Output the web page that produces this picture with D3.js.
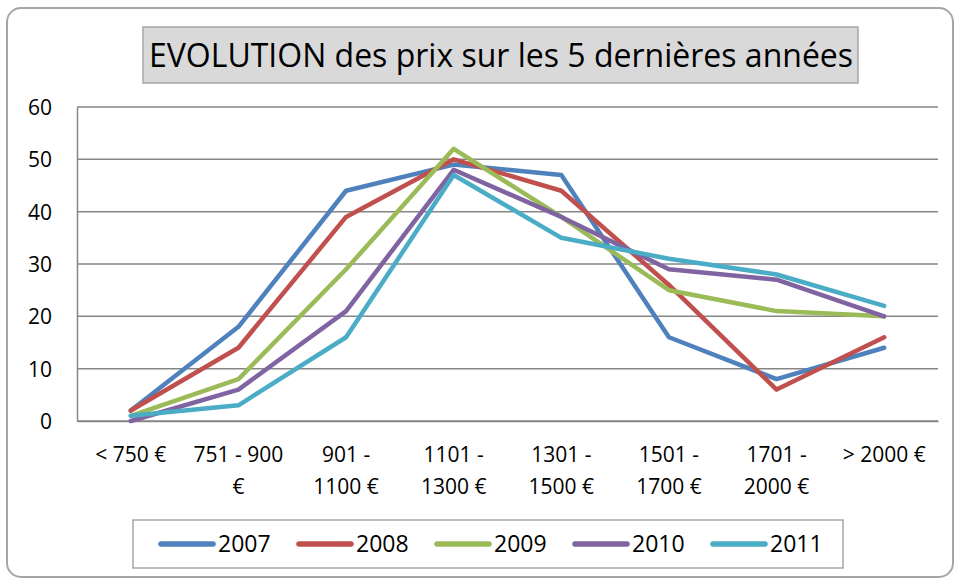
<!DOCTYPE html>
<html>
<head>
<meta charset="utf-8">
<script src="https://cdn.jsdelivr.net/npm/d3@7"></script>
<style>
  body { margin: 0; background: #fff; }
  text { font-family: "Open Sans", sans-serif; fill: #000; }
</style>
</head>
<body>
<div id="chart"></div>
<script>
// data
var categories = ["< 750 €", "751 - 900 €", "901 - 1100 €", "1101 - 1300 €", "1301 - 1500 €", "1501 - 1700 €", "1701 - 2000 €", "> 2000 €"];
var tickLines = [["< 750 €"], ["751 - 900", "€"], ["901 -", "1100 €"], ["1101 -", "1300 €"], ["1301 -", "1500 €"], ["1501 -", "1700 €"], ["1701 -", "2000 €"], ["> 2000 €"]];
var years = ["2007", "2008", "2009", "2010", "2011"];
var v2007 = [2, 18, 44, 49, 47, 16, 8, 14];
var v2008 = [2, 14, 39, 50, 44, 26, 6, 16];
var v2009 = [1, 8, 29, 52, 39, 25, 21, 20];
var v2010 = [0, 6, 21, 48, 39, 29, 27, 20];
var v2011 = [1, 3, 16, 47, 35, 31, 28, 22];
var yTicks = [0, 10, 20, 30, 40, 50, 60];
var colors = ["#4F81BD", "#C0504D", "#9BBB59", "#8064A2", "#4BACC6"];

var series = [v2007, v2008, v2009, v2010, v2011];

var W = 960, H = 579;
var margin = {top: 107, right: 22, bottom: 158, left: 77},
    width = W - margin.left - margin.right,
    height = H - margin.top - margin.bottom;

var svg = d3.select("#chart").append("svg")
    .attr("width", W)
    .attr("height", H);

// outer frame
svg.append("rect")
    .attr("x", 7).attr("y", 8)
    .attr("width", W - 14).attr("height", H - 10)
    .attr("rx", 14)
    .attr("fill", "#fff")
    .attr("stroke", "#a6a6a6")
    .attr("stroke-width", 2);

// title
svg.append("rect")
    .attr("x", 143).attr("y", 27)
    .attr("width", 715).attr("height", 56)
    .attr("fill", "#d9d9d9")
    .attr("stroke", "#a6a6a6")
    .attr("stroke-width", 1.5);
svg.append("text")
    .attr("x", 501).attr("y", 67)
    .attr("text-anchor", "middle")
    .style("font-size", "32px")
    .text("EVOLUTION des prix sur les 5 dernières années");

var g = svg.append("g")
    .attr("transform", "translate(" + margin.left + "," + margin.top + ")");

var x = d3.scaleBand().domain(categories).range([0, width]);
var y = d3.scaleLinear().domain([0, 60]).range([height, 0]);

// gridlines
g.selectAll(".grid")
  .data(yTicks)
  .enter().append("line")
    .attr("class", "grid")
    .attr("x1", 0).attr("x2", width)
    .attr("y1", function(d) { return y(d); })
    .attr("y2", function(d) { return y(d); })
    .attr("stroke", "#868686")
    .attr("stroke-width", 1.5);

// y axis
var yAxis = g.append("g")
    .call(d3.axisLeft(y).tickValues(yTicks).tickSize(0).tickPadding(25));
yAxis.select(".domain").attr("stroke", "#868686").attr("stroke-width", 1.5);
yAxis.selectAll("text").style("font-size", "21px").attr("dy", "0.36em");

// x axis
var xAxis = g.append("g")
    .attr("transform", "translate(0," + height + ")")
    .call(d3.axisBottom(x).tickSize(0).tickFormat(""));
xAxis.select(".domain").attr("stroke", "#868686").attr("stroke-width", 1.5);

var labels = g.selectAll(".xlab")
  .data(categories)
  .enter().append("text")
    .attr("class", "xlab")
    .attr("text-anchor", "middle")
    .attr("transform", function(d) { return "translate(" + (x(d) + x.bandwidth() / 2) + "," + (height + 41) + ")"; })
    .style("font-size", "21px");
labels.selectAll("tspan")
  .data(function(d, i) { return tickLines[i]; })
  .enter().append("tspan")
    .attr("x", 0)
    .attr("y", function(d, i) { return i * 32; })
    .text(function(d) { return d; });

// lines
var line = d3.line()
    .x(function(d, i) { return x(categories[i]) + x.bandwidth() / 2; })
    .y(function(d) { return y(d); });

g.selectAll(".line")
  .data(series)
  .enter().append("path")
    .attr("class", "line")
    .attr("d", line)
    .attr("fill", "none")
    .attr("stroke", function(d, i) { return colors[i]; })
    .attr("stroke-width", 4.5)
    .attr("stroke-linejoin", "round")
    .attr("stroke-linecap", "round");

// legend
svg.append("rect")
    .attr("x", 133).attr("y", 520)
    .attr("width", 710).attr("height", 48)
    .attr("fill", "#fff")
    .attr("stroke", "#a6a6a6")
    .attr("stroke-width", 1.5);

var leg = svg.selectAll(".leg")
  .data(years)
  .enter().append("g")
    .attr("class", "leg")
    .attr("transform", function(d, i) { return "translate(" + (161 + i * 138) + ",544)"; });
leg.append("line")
    .attr("x1", 0).attr("x2", 52)
    .attr("stroke", function(d, i) { return colors[i]; })
    .attr("stroke-width", 5.5)
    .attr("stroke-linecap", "round");
leg.append("text")
    .attr("x", 57).attr("dy", "0.36em")
    .style("font-size", "23px")
    .text(function(d) { return d; });
</script>
</body>
</html>
